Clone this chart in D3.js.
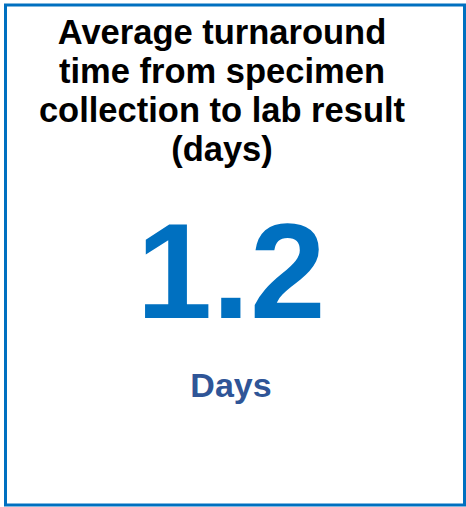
<!DOCTYPE html>
<html>
  <head>
    <meta charset="utf-8">
    <title></title>
  </head>
  <style>
    body{
      margin: 0;
      background-color: #fff;
      font-family: "Liberation Sans", Arial, sans-serif;
    }
  </style>
  <script src="https://d3js.org/d3.v7.min.js"></script>
  <body>
    <script>
    const titleLines = ["Average turnaround", "time from specimen", "collection to lab result", "(days)"]
    const values = [1.2]
    const units = ["Days"]

    var width = 466
    var height = 507

    var svg = d3.select("body")
                .append("svg")
                .attr("width", width)
                .attr("height", height)

    // card border
    svg.append("rect")
       .attr("x", 5.5)
       .attr("y", 5)
       .attr("width", 459)
       .attr("height", 500)
       .attr("fill", "#fff")
       .attr("stroke", "#0070C0")
       .attr("stroke-width", 3)

    // title, one line per row
    let lineY = d3.scalePoint()
                  .domain(d3.range(titleLines.length))
                  .range([44, 161])

    svg.append("g").selectAll("text")
       .data(titleLines)
       .enter()
       .append("text")
       .text(function(d){ return d })
       .attr("x", 222)
       .attr("y", function(d, i){ return lineY(i) })
       .attr("text-anchor", "middle")
       .attr("font-size", "34.5px")
       .attr("font-weight", "bold")
       .attr("fill", "#000")

    // big number
    svg.append("g").selectAll("text")
       .data(values)
       .enter()
       .append("text")
       .text(function(d){ return d3.format(".1f")(d) })
       .attr("x", 231)
       .attr("y", 318)
       .attr("text-anchor", "middle")
       .attr("font-size", "136px")
       .attr("font-weight", "bold")
       .attr("fill", "#0070C0")

    // unit label
    svg.append("g").selectAll("text")
       .data(units)
       .enter()
       .append("text")
       .text(function(d){ return d })
       .attr("x", 231)
       .attr("y", 397)
       .attr("text-anchor", "middle")
       .attr("font-size", "34px")
       .attr("font-weight", "bold")
       .attr("fill", "#2F5597")
    </script>
  </body>
</html>
